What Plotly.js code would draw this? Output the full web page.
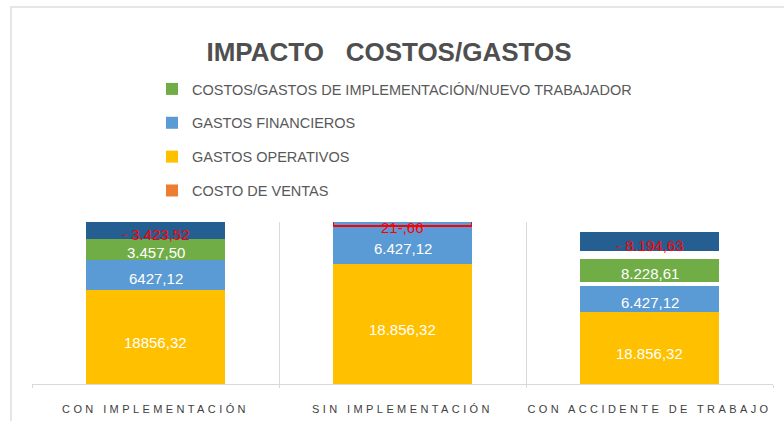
<!DOCTYPE html>
<html>
<head>
<meta charset="utf-8">
<script src="https://cdn.plot.ly/plotly-3.0.1.min.js"></script>
<style>
  html, body { margin: 0; padding: 0; background: #fff; }
  #wrap { position: relative; width: 784px; height: 421px; overflow: hidden; }
  #chart { width: 784px; height: 421px; }
  #frame { position: absolute; left: 10px; top: 6px; width: 900px; height: 600px;
           border-left: 2px solid #E6E6E6; border-top: 2px solid #E6E6E6; pointer-events: none; }
  .xtick text { letter-spacing: 3.4px; }
  .gtitle { white-space: pre; }
</style>
</head>
<body>
<div id="wrap"><div id="chart"></div><div id="frame"></div></div>
<script>
// ---- data ----
const categories = ['CON IMPLEMENTACIÓN', 'SIN IMPLEMENTACIÓN', 'CON ACCIDENTE DE TRABAJO'];

const gastosOperativos   = [18800, 24000, 14400];
const gastosFinancieros  = [6000, 7600, 5200];
const separacion1        = [0, 0, 860];
const implementacion     = [4140, 0, 4480];
const separacion2        = [0, 0, 1660];
const resultado          = [3600, 1000, 3860];
const costoVentas        = [0, 0, 0];

// ---- labels shown on the bars ----
const lblOperativos  = ['18856,32', '18.856,32', '18.856,32'];
const lblFinancieros = ['6427,12', '6.427,12', '6.427,12'];
const lblImplement   = ['3.457,50', '', '8.228,61'];
const lblResultado   = ['- 3.423,52', '21-,66', '- 8.194,63'];

const C_YELLOW = '#FFC000', C_BLUE = '#5B9BD5', C_GREEN = '#70AD47',
      C_DARK = '#255E91', C_ORANGE = '#ED7D31', C_RED = '#FF0000';

function barTrace(name, y, color, rank, extra) {
  return Object.assign({
    type: 'bar', name: name, x: categories, y: y,
    marker: { color: color, line: { width: 0 } },
    legendgroup: name, legendrank: rank, hoverinfo: 'skip'
  }, extra || {});
}

const transparent = 'rgba(0,0,0,0)';
const data = [
  barTrace('GASTOS OPERATIVOS', gastosOperativos, C_YELLOW, 3),
  barTrace('GASTOS FINANCIEROS', gastosFinancieros, C_BLUE, 2),
  barTrace('sep1', separacion1, transparent, 10, { showlegend: false }),
  barTrace('COSTOS/GASTOS DE IMPLEMENTACIÓN/NUEVO TRABAJADOR', implementacion, C_GREEN, 1),
  barTrace('sep2', separacion2, transparent, 11, { showlegend: false }),
  barTrace('RESULTADO', resultado, [C_DARK, C_BLUE, C_DARK], 12, {
    showlegend: false,
    marker: { color: [C_DARK, C_BLUE, C_DARK],
              line: { color: [C_DARK, C_RED, C_DARK], width: [0, 1.5, 0] } }
  }),
  barTrace('COSTO DE VENTAS', costoVentas, C_ORANGE, 4)
];

// ---- label annotations placed at segment centres computed from the data ----
const stack = [
  [gastosOperativos, lblOperativos, '#FFFFFF', -5],
  [gastosFinancieros, lblFinancieros, '#FFFFFF', -3],
  [separacion1, null, null, 0],
  [implementacion, lblImplement, '#FFFFFF', -3],
  [separacion2, null, null, 0],
  [resultado, lblResultado, C_RED, -4]
];
const annotations = [];
categories.forEach((cat, i) => {
  let base = 0;
  stack.forEach(([vals, lbls, col, shift]) => {
    const v = vals[i];
    if (lbls && lbls[i]) {
      annotations.push({
        x: cat, y: base + v / 2, xref: 'x', yref: 'y', text: lbls[i],
        showarrow: false, yshift: shift,
        font: { family: 'Liberation Sans, Arial, sans-serif', size: 15, color: col }
      });
    }
    base += v;
  });
});

const layout = {
  width: 784, height: 421,
  margin: { l: 32, r: 11, t: 222, b: 37, autoexpand: false },
  paper_bgcolor: '#FFFFFF', plot_bgcolor: '#FFFFFF',
  barmode: 'stack', bargap: 0.44,
  title: {
    text: 'IMPACTO   COSTOS/GASTOS',
    x: 389 / 784, xref: 'container', xanchor: 'center',
    y: 1 - 52 / 421, yref: 'container', yanchor: 'middle', automargin: false,
    font: { family: 'Liberation Sans, Arial, sans-serif', size: 26, color: '#4F4F4F', weight: 'bold' }
  },
  showlegend: true,
  legend: {
    xref: 'paper', yref: 'paper',
    x: (152 - 32) / 741, xanchor: 'left', y: (384 - 73) / 162, yanchor: 'top',
    traceorder: 'grouped', tracegroupgap: 12,
    font: { family: 'Liberation Sans, Arial, sans-serif', size: 14.5, color: '#595959' },
    bgcolor: 'rgba(0,0,0,0)', borderwidth: 0
  },
  xaxis: {
    type: 'category', tickson: 'boundaries', tickangle: 0, automargin: false,
    showgrid: true, gridcolor: '#D9D9D9', gridwidth: 1,
    showline: true, linecolor: '#D9D9D9', linewidth: 1,
    ticks: 'outside', ticklen: 3, tickcolor: '#D9D9D9',
    ticklabelstandoff: 15,
    tickfont: { family: 'Liberation Sans, Arial, sans-serif', size: 11, color: '#404040' },
    fixedrange: true
  },
  yaxis: {
    range: [0, 32400], showgrid: false, zeroline: false, showline: false, automargin: false,
    showticklabels: false, ticks: '', fixedrange: true
  },
  annotations: annotations
};

Plotly.newPlot('chart', data, layout, { staticPlot: true, displayModeBar: false });
</script>
</body>
</html>
